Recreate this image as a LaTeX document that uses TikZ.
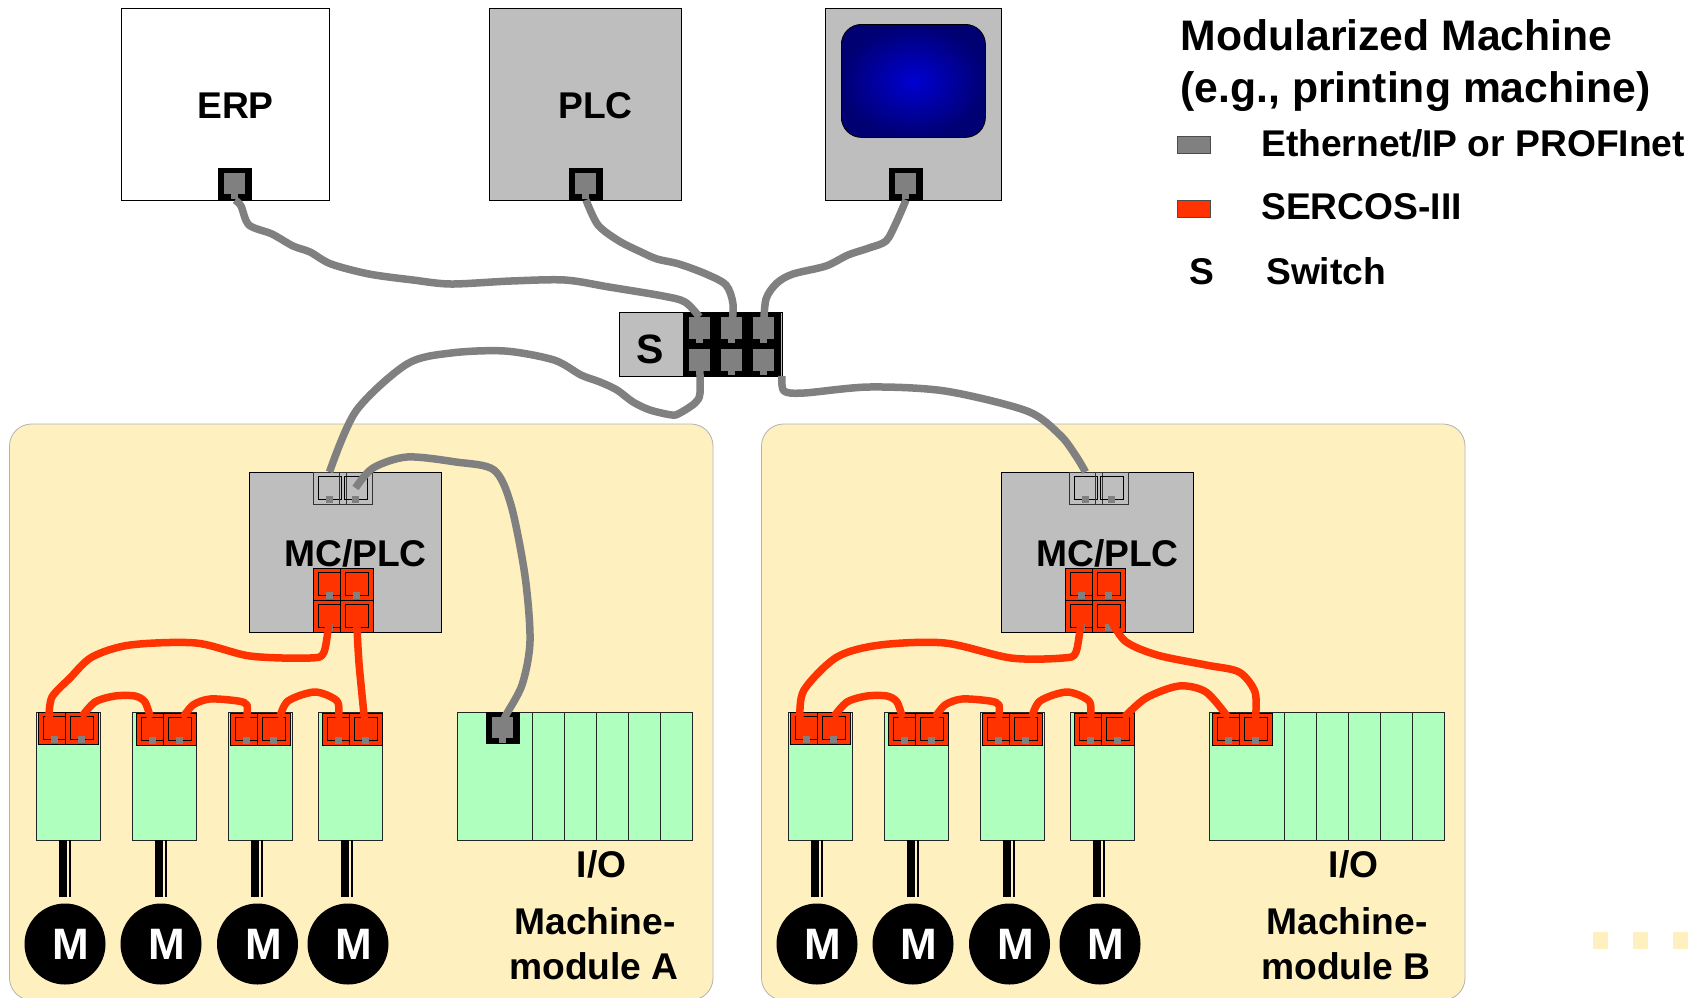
\documentclass[tikz,border=0pt]{standalone}
\usepackage{fontspec}
\setmainfont{Liberation Sans}
\definecolor{modfill}{HTML}{FFF0BF}
\definecolor{boxgray}{HTML}{BEBEBE}
\definecolor{green1}{HTML}{AFFFBF}
\definecolor{red1}{HTML}{FF3300}
\definecolor{wire}{HTML}{808080}
\tikzset{
  module/.style={draw=black!30,fill=modfill,line width=.8pt,rounded corners=22pt},
  unitbox/.style={draw=black,line width=1pt,fill=boxgray,minimum width=0pt,anchor=north west,inner sep=0pt,outer sep=0pt},
  drivebox/.style={draw=black!85,line width=1pt,fill=green1,anchor=north west,inner sep=0pt,outer sep=0pt},
  portnode/.style={anchor=north west,inner sep=0pt,outer sep=0pt,minimum width=33pt,minimum height=32pt},
  redport/.style={portnode,draw=black,line width=1pt,fill=red1},
  openport/.style={portnode,draw=black!80,line width=.8pt},
  blackport/.style={portnode,fill=black,minimum width=34pt},
  portinner/.style={draw=black,line width=.9pt},
  tabfill/.style={fill=wire},
  gwire/.style={draw=wire,line width=7.5pt,line join=round},
  rwire/.style={draw=red1,line width=7.5pt,line join=round},
  bigtxt/.style={font=\fontsize{37.2}{37.2}\bfseries\selectfont,inner sep=0pt,anchor=base west},
  ctrtxt/.style={font=\fontsize{37.2}{37.2}\bfseries\selectfont,inner sep=0pt,anchor=base},
  titletxt/.style={font=\fontsize{42.7}{42.7}\bfseries\selectfont,inner sep=0pt,anchor=base west},
  motor/.style={circle,fill=black,text=white,inner sep=0pt,minimum size=81pt,font=\fontsize{44}{44}\bfseries\selectfont},
  shaftA/.style={draw=black,line width=8pt},
  shaftB/.style={draw=black,line width=2.5pt},
  swatch/.style={draw=black!70,line width=.8pt,anchor=north west,minimum width=33pt,minimum height=17pt,inner sep=0pt,outer sep=0pt},
  dotsq/.style={fill=modfill,anchor=north west,minimum width=15pt,minimum height=17pt,inner sep=0pt},
  swportnode/.style={tabfill,anchor=north west,inner sep=0pt,outer sep=0pt,minimum width=21pt,minimum height=22pt},
  in port/.style={yshift=-5pt},
}
% name, x, y : red port
\newcommand{\rport}[3]{%
  \node[redport] (#1) at (#2,#3) {};
  \draw[portinner] (#2+5,#3+4) rectangle (#2+28,#3+27);
  \fill[tabfill] (#2+13,#3+24) rectangle (#2+20,#3+31);
}
\newcommand{\oport}[3]{%
  \node[openport] (#1) at (#2,#3) {};
  \draw[portinner] (#2+5,#3+4) rectangle (#2+28,#3+27);
  \fill[tabfill] (#2+13,#3+24) rectangle (#2+20,#3+31);
}
\newcommand{\bport}[3]{%
  \node[blackport] (#1) at (#2,#3) {};
  \fill[tabfill] (#2+6,#3+5) rectangle (#2+27,#3+26);
  \fill[tabfill] (#2+13,#3+26) rectangle (#2+20,#3+31);
}
\newcommand{\swport}[3]{%
  \node[swportnode] (#1) at (#2,#3) {};
  \fill[tabfill] (#2+7,#3+22) rectangle (#2+14,#3+26);
}
\begin{document}
\begin{tikzpicture}[x=1pt,y=-1pt]
\useasboundingbox (0,0) rectangle (1704,997);
\begin{scope}
\clip (0,0) rectangle (1704,997);
\draw[module] (9.5,424) rectangle (713,1000);
\draw[module] (761.5,424) rectangle (1465,1000);
\end{scope}
% upper devices
\node[unitbox,fill=white,minimum width=208pt,minimum height=191.5pt] (erp) at (121,8.5) {};
\node[unitbox,minimum width=192pt,minimum height=191.5pt] (plc) at (489,8.5) {};
\node[unitbox,minimum width=176pt,minimum height=191.5pt] (hmi) at (825,8.5) {};
\node[bigtxt] (erpt) at (197,118) {ERP};
\node[bigtxt] (plct) at (558,118) {PLC};
\node[draw=black,line width=.8pt,rounded corners=20pt,minimum width=144pt,minimum height=113pt,inner sep=0pt,anchor=north west,inner color=blue!82!black,outer color=blue!45!black] (screen) at (841,24) {};
\bport{erpP}{218}{168}
\bport{plcP}{569}{168}
\bport{hmiP}{889}{168}
% switch
\node[unitbox,minimum width=163pt,minimum height=64pt] (sw) at (619,312) {};
\fill[black] (683,312) rectangle (781,376);
\node[ctrtxt,font=\fontsize{41}{41}\bfseries\selectfont] (swt) at (650,363) {S};
\swport{s1}{689}{317}
\swport{s2}{721}{317}
\swport{s3}{753}{317}
\swport{s4}{689}{349}
\swport{s5}{721}{349}
\swport{s6}{753}{349}
% MC/PLC units
\foreach \nm/\dx/\tx in {A/0/0,B/752/756}{
  \node[unitbox,minimum width=192pt,minimum height=160pt] (mc\nm) at (249+\dx,472) {};
  \oport{mt1\nm}{313+\tx}{472}
  \oport{mt2\nm}{339+\tx}{472}
  \rport{mr1\nm}{313+\dx}{568}
  \rport{mr2\nm}{340+\dx}{568}
  \rport{mr3\nm}{313+\dx}{600}
  \rport{mr4\nm}{340+\dx}{600}
  \node[bigtxt] (mct\nm) at (284+\dx,566) {MC/PLC};
  % drives and motors
  \foreach \i/\bx/\px/\py/\mx in {1/36/38/712/65,2/132/136/713/161,3/228/230/713/257.5,4/318/322/713/348}{
    \node[drivebox,minimum width=64pt,minimum height=128pt] (d\i\nm) at (\bx+\dx,712) {};
    \rport{pl\i\nm}{\px+\dx}{\py}
    \rport{pr\i\nm}{\px+27+\dx}{\py}
    \node[motor] (m\i\nm) at (\mx+\dx,944) {\hspace{12pt}\raisebox{-1.5pt}{M}};
    \draw[shaftA] ([xshift=-5pt]d\i\nm.south) -- ([xshift=-5pt,yshift=6pt]d\i\nm.south |- m\i\nm.north);
    \draw[shaftB] ([xshift=2pt]d\i\nm.south) -- ([xshift=2pt,yshift=6pt]d\i\nm.south |- m\i\nm.north);
  }
  % I/O rack
  \node[drivebox,minimum width=235pt,minimum height=128pt] (io\nm) at (457.5+\dx,712) {};
  \foreach \v in {532.5,564.5,596.5,628.5,660.5}{
    \draw[draw=black!85,line width=1pt] (\v+\dx,712) -- (\v+\dx,840);
  }
  \node[ctrtxt] (iot\nm) at (601.5+\dx,877) {I/O};
  \node[ctrtxt] (mod1\nm) at (595+\dx,934) {Machine-};
  \node[ctrtxt] (mod2\nm) at (594+\dx,979) {module \nm};
}
\bport{ioPA}{486}{712}
\rport{ioP1}{1212}{713}
\rport{ioP2}{1239}{713}
% legend
\node[titletxt] (t1) at (1180.5,50) {Modularized Machine};
\node[titletxt] (t2) at (1180.5,102) {(e.g., printing machine)};
\node[swatch,fill=wire] (lg1) at (1177,136) {};
\node[swatch,fill=red1] (lg2) at (1177,200) {};
\node[bigtxt] (lt1) at (1261,156) {Ethernet/IP or PROFInet};
\node[bigtxt] (lt2) at (1261,219) {SERCOS-III};
\node[bigtxt] (lt3) at (1189,284) {S};
\node[bigtxt] (lt4) at (1266,284) {Switch};
\node[dotsq] (q1) at (1593,932) {};
\node[dotsq] (q2) at (1633,932) {};
\node[dotsq] (q3) at (1673,932) {};
% gray wires
\draw[gwire] plot[smooth,tension=.5] coordinates {(erpP.south) (241,206) (249,225) (272,234) (293,246) (310,252) (331,264) (369,274) (413,280) (451,284) (511,281) (565,280) (609,287) (663,296) (685,302) (s1.north)};
\draw[gwire] plot[smooth,tension=.5] coordinates {(plcP.south) (598,225) (619,241) (641,252) (657,259) (679,264) (706,274) (726,285) (733,304) (s2)};
\draw[gwire] plot[smooth,tension=.5] coordinates {(hmiP.south) (896,223) (886,241) (869,248) (848,255) (826,266) (793,274) (777,283) (766,299) (s3)};
\draw[gwire] plot[smooth,tension=.5] coordinates {(s4) (700,393) (695,403) (680,413) (672,415) (650,410) (633,402) (617,390) (600,382) (581,375) (554,360) (505,351) (451,353) (407,364) (356,411) (mt1A.north)};
\draw[gwire] plot[smooth,tension=.5] coordinates {(sw.south east) (784,391) (804,393) (869,387) (945,391) (1027,411) (1060,435) (1076,456) (mt1B.north)};
\draw[gwire] plot[smooth,tension=.5] coordinates {(mt2A) (373,468) (407,457) (456,462) (494,470) (511,505) (525,576) (530,641) (522,685) (505,717) (ioPA)};
% red wires A
\draw[rwire] plot[smooth,tension=.5] coordinates {(mr3A) (324,652) (310,658) (250,656) (196,643) (130,645) (92,657) (70,678) (52,697) ([xshift=-5.5pt,in port]pl1A.north)};
\draw[rwire] plot[smooth,tension=.5] coordinates {(mr4A) (359,663) (pr4A)};
\draw[rwire] plot[smooth,tension=.5] coordinates {([in port]pr1A.north) (95,702) (115,696) (135,696) (145,702) ([xshift=-2pt,in port]pl2A.north)};
\draw[rwire] plot[smooth,tension=.5] coordinates {([xshift=3pt,in port]pr2A.north) (193,705) (210,699) (238,701) (247,705) ([in port]pl3A.north)};
\draw[rwire] plot[smooth,tension=.5] coordinates {([xshift=6pt,in port]pr3A.north) (288,701) (315,692) (337,701) ([in port]pl4A.north)};
% red wires B
\draw[rwire] plot[smooth,tension=.5] coordinates {(mr3B) (1076,652) (1063,658) (1011,658) (945,643) (880,645) (837,657) (804,690) ([xshift=-6.5pt,in port]pl1B.north)};
\draw[rwire] plot[smooth,tension=.5] coordinates {(mr4B) (1125,641) (1157,655) (1206,665) (1239,672) (1255,692) ([in port]ioP2.north)};
\draw[rwire] plot[smooth,tension=.5] coordinates {([in port]pr1B.north) (847,702) (867,696) (887,696) (897,702) ([xshift=-2pt,in port]pl2B.north)};
\draw[rwire] plot[smooth,tension=.5] coordinates {([xshift=3pt,in port]pr2B.north) (945,705) (962,699) (990,701) (999,705) ([in port]pl3B.north)};
\draw[rwire] plot[smooth,tension=.5] coordinates {([xshift=6pt,in port]pr3B.north) (1040,701) (1067,692) (1089,701) ([in port]pl4B.north)};
\draw[rwire] plot[smooth,tension=.5] coordinates {([xshift=6pt,in port]pr4B.north) (1146,698) (1179,686) (1206,692) ([in port]ioP1.north)};
\end{tikzpicture}
\end{document}
